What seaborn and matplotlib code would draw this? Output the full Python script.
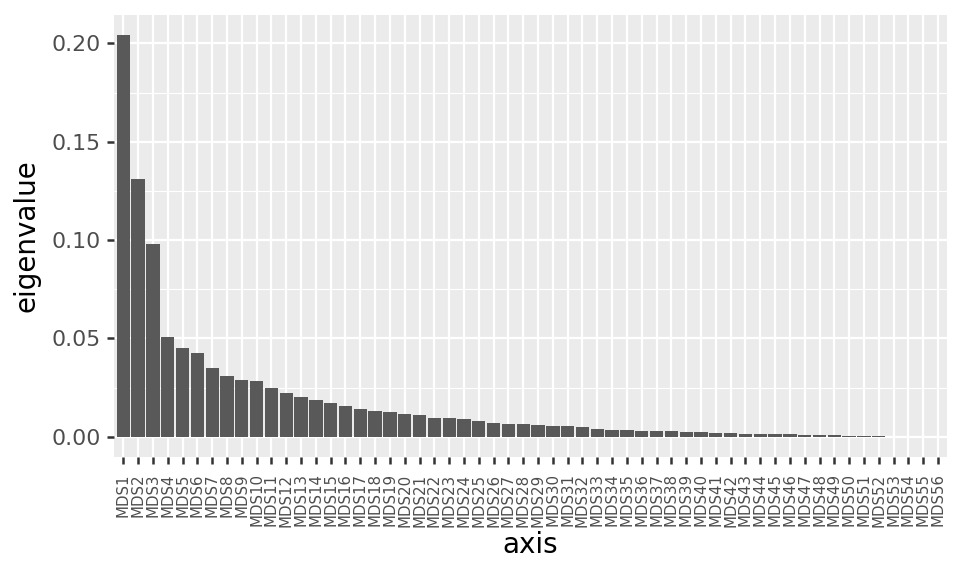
import numpy as np
import pandas as pd
import matplotlib
matplotlib.use("Agg")
import matplotlib.pyplot as plt
import seaborn as sns
from matplotlib.ticker import MultipleLocator

# Eigenvalues (MDS axes)
axes_names = [f"MDS{i}" for i in range(1, 57)]
eigenvalues = [
    0.2042, 0.1310, 0.0980, 0.0507, 0.0451, 0.0425, 0.0349, 0.0308, 0.0288, 0.0283,
    0.0247, 0.0222, 0.0202, 0.0186, 0.0171, 0.0156, 0.0141, 0.0131, 0.0125, 0.0115,
    0.0110, 0.0095, 0.0095, 0.0090, 0.0080, 0.0069, 0.0064, 0.0064, 0.0059, 0.0054,
    0.0054, 0.0049, 0.0039, 0.0034, 0.0034, 0.0029, 0.0029, 0.0029, 0.0023, 0.0022,
    0.0017, 0.0017, 0.0012, 0.0012, 0.0012, 0.0012, 0.0007, 0.0007, 0.0007, 0.0003,
    0.0003, 0.0003, 0.0, 0.0, 0.0, 0.0,
]

df = pd.DataFrame({"axis": axes_names, "eigenvalue": eigenvalues})

sns.set_theme(style="white")
plt.rcParams["font.family"] = ["DejaVu Sans"]

fig = plt.figure(figsize=(9.6, 5.76), dpi=100)
ax = fig.add_axes([114.4 / 960, (576 - 456.8) / 576, (946.9 - 114.4) / 960, (456.8 - 15) / 576])

sns.barplot(data=df, x="axis", y="eigenvalue", color="#595959", saturation=1,
            width=0.9, linewidth=0, ax=ax, zorder=2)

# ggplot-like grey panel with white grid
ax.set_facecolor("#EBEBEB")
ax.yaxis.set_major_locator(MultipleLocator(0.05))
ax.yaxis.set_minor_locator(MultipleLocator(0.025))
ax.grid(which="major", axis="both", color="white", linewidth=1.6)
ax.grid(which="minor", axis="y", color="white", linewidth=0.8)
ax.set_axisbelow(True)

ax.set_xlim(-0.6, len(axes_names) - 0.4)
ax.set_ylim(-0.0102, 0.2144)
ax.yaxis.set_major_formatter(matplotlib.ticker.FormatStrFormatter("%.2f"))

for s in ax.spines.values():
    s.set_visible(False)

ax.tick_params(axis="both", which="major", length=5, width=1.8, color="#333333",
               labelcolor="#4D4D4D", bottom=True, left=True)
ax.tick_params(axis="y", which="major", labelsize=15.8, pad=5)
ax.tick_params(axis="y", which="minor", length=0)
ax.tick_params(axis="x", labelsize=10.8, pad=7)
plt.setp(ax.get_xticklabels(), rotation=90, ha="center", va="top")

ax.set_xlabel("axis", fontsize=20, color="black", labelpad=3)
ax.set_ylabel("eigenvalue", fontsize=20, color="black", labelpad=8)

fig.savefig("out.png", dpi=100)
